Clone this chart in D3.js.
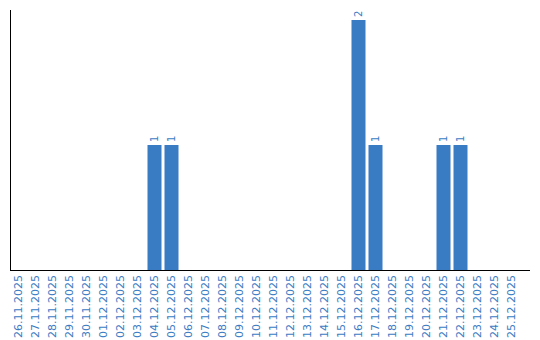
<!DOCTYPE html>
<html>
<head>
<meta charset="utf-8">
<script src="https://cdn.jsdelivr.net/npm/d3@7"></script>
<style>
  body { margin: 0; background: #fff; }
  svg { display: block; font-family: "DejaVu Sans", Verdana, sans-serif; }
</style>
</head>
<body>
<svg id="chart"></svg>
<script>
// Dates shown on the x axis
const dates = [
    "26.11.2025", "27.11.2025", "28.11.2025", "29.11.2025", "30.11.2025",
    "01.12.2025", "02.12.2025", "03.12.2025", "04.12.2025", "05.12.2025",
    "06.12.2025", "07.12.2025", "08.12.2025", "09.12.2025", "10.12.2025",
    "11.12.2025", "12.12.2025", "13.12.2025", "14.12.2025", "15.12.2025",
    "16.12.2025", "17.12.2025", "18.12.2025", "19.12.2025", "20.12.2025",
    "21.12.2025", "22.12.2025", "23.12.2025", "24.12.2025", "25.12.2025"
];
// Count per date
const counts = [
    0, 0, 0, 0, 0,
    0, 0, 0, 1, 1,
    0, 0, 0, 0, 0,
    0, 0, 0, 0, 0,
    2, 1, 0, 0, 0,
    1, 1, 0, 0, 0
];

const W = 540, H = 340;
const blue = "#3a7cc4";

const svg = d3.select("#chart")
    .attr("width", W)
    .attr("height", H);

const data = dates.map((d, i) => ({ date: d, value: counts[i] }));

// Scales
const x = d3.scaleBand()
    .domain(dates)
    .range([10, 520])
    .paddingInner(3 / 17)
    .paddingOuter(3 / 34);

const y = d3.scaleLinear()
    .domain([0, 2.08])
    .range([270, 10]);

// Bars
svg.selectAll(".bar")
    .data(data.filter(d => d.value > 0))
    .enter().append("rect")
    .attr("class", "bar")
    .attr("x", d => x(d.date))
    .attr("y", d => y(d.value))
    .attr("width", x.bandwidth())
    .attr("height", d => y(0) - y(d.value))
    .attr("fill", blue);

// Value labels above bars, rotated
svg.selectAll(".val")
    .data(data.filter(d => d.value > 0))
    .enter().append("text")
    .attr("class", "val")
    .attr("transform", d => `translate(${x(d.date) + x.bandwidth() / 2}, ${y(d.value) - 3}) rotate(-90)`)
    .attr("dy", "0.35em")
    .attr("text-anchor", "start")
    .style("font-size", "10px")
    .style("fill", blue)
    .text(d => d.value);

// X tick labels
const xAxis = svg.append("g")
    .attr("transform", `translate(0, ${y(0)})`)
    .call(d3.axisBottom(x).tickSize(0).tickPadding(0));
xAxis.select(".domain").remove();
xAxis.selectAll("text")
    .attr("transform", "rotate(-90)")
    .attr("x", -5)
    .attr("y", 0)
    .attr("dy", "0.35em")
    .attr("text-anchor", "end")
    .style("font-family", "'DejaVu Sans', Verdana, sans-serif")
    .style("font-size", "11px")
    .style("fill", blue);

// Axis lines
svg.append("line")
    .attr("x1", 10.5).attr("x2", 10.5)
    .attr("y1", 10).attr("y2", y(0) + 1)
    .attr("stroke", "#000")
    .attr("stroke-width", 1);

svg.append("line")
    .attr("x1", 10).attr("x2", 530)
    .attr("y1", y(0) + 0.5).attr("y2", y(0) + 0.5)
    .attr("stroke", "#000")
    .attr("stroke-width", 1);
</script>
</body>
</html>
